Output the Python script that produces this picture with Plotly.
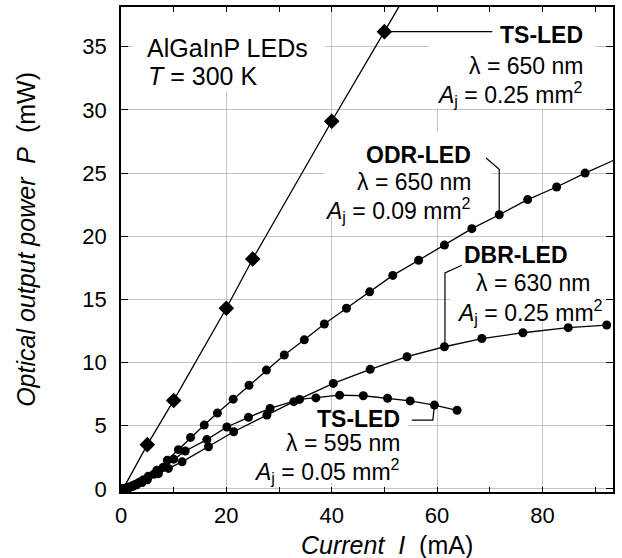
import plotly.graph_objects as go

# ---------------- data ----------------
# TS-LED, 650 nm, Aj = 0.25 mm^2 (diamonds)
ts650_current = [5, 10, 20, 25, 40, 50]
ts650_power = [3.5, 7.0, 14.3, 18.2, 29.1, 36.2]
ts650_line_current = [0.4, 5, 10, 20, 25, 40, 50, 53.5]
ts650_line_power = [0.0, 3.5, 7.0, 14.3, 18.2, 29.1, 36.2, 38.7]

# ODR-LED, 650 nm, Aj = 0.09 mm^2
odr_current = [0, 0.5, 1.0, 1.5, 2.0, 2.7, 3.5, 4.3, 5.2, 6.8, 8.8, 10.9, 13.2, 15.8,
               18.3, 21.3, 24.3, 27.6, 31.0, 34.8, 38.6, 42.8, 47.2, 51.6, 56.5, 61.4,
               66.6, 71.8, 77.2, 82.7, 88.1]
odr_power = [0, 0.02, 0.06, 0.12, 0.2, 0.35, 0.52, 0.72, 1.0, 1.48, 2.27, 3.1, 4.07, 5.05,
             6.0, 7.1, 8.2, 9.4, 10.6, 11.8, 13.05, 14.3, 15.6, 16.9, 18.1, 19.3,
             20.6, 21.7, 22.9, 23.9, 25.0]
odr_tail_current = [88.1, 94.0]
odr_tail_power = [25.0, 26.1]

# DBR-LED, 630 nm, Aj = 0.25 mm^2
dbr_current = [0, 0.5, 1.0, 1.6, 2.3, 3.0, 4.0, 5.0, 7.1, 9.0, 11.6, 16.6, 21.4, 27.7,
               32.8, 40.3, 47.3, 54.3, 61.4, 68.5, 76.3, 84.9, 92.2]
dbr_power = [0, 0.01, 0.04, 0.1, 0.2, 0.32, 0.5, 0.72, 1.2, 1.62, 2.14, 3.33, 4.52, 5.84,
             6.9, 8.35, 9.46, 10.46, 11.25, 11.9, 12.36, 12.76, 12.97]

# TS-LED, 595 nm, Aj = 0.05 mm^2
ts595_current = [0, 0.5, 1.0, 1.5, 2.2, 3.0, 4.0, 5.0, 6.2, 8.0, 10.0, 12.2, 16.3, 20.1,
                 24.2, 28.3, 33.9, 37.0, 41.5, 46.0, 50.6, 54.9, 59.5, 63.8]
ts595_power = [0, 0.02, 0.06, 0.12, 0.25, 0.4, 0.62, 0.85, 1.15, 1.7, 2.35, 3.0, 3.9, 4.9,
               5.66, 6.37, 7.08, 7.2, 7.42, 7.37, 7.17, 6.96, 6.63, 6.22]

x_ticks = [0, 20, 40, 60, 80]
y_ticks = [0, 5, 10, 15, 20, 25, 30, 35]

FONT = "Liberation Sans, Arial, sans-serif"
BLACK = "black"

fig = go.Figure()

line_style = dict(color=BLACK, width=1.3)

fig.add_trace(go.Scatter(x=ts650_line_current, y=ts650_line_power, mode="lines",
                         line=line_style, hoverinfo="skip"))
fig.add_trace(go.Scatter(x=ts650_current, y=ts650_power, mode="markers",
                         marker=dict(symbol="diamond", size=12, color=BLACK)))

for cx, py in [(odr_current, odr_power), (dbr_current, dbr_power), (ts595_current, ts595_power)]:
    fig.add_trace(go.Scatter(x=cx, y=py, mode="lines+markers", line=line_style,
                             marker=dict(symbol="circle", size=9, color=BLACK)))
fig.add_trace(go.Scatter(x=odr_tail_current, y=odr_tail_power, mode="lines",
                         line=line_style, hoverinfo="skip"))

# ---------------- white boxes behind text (break the grid) ----------------
boxes = [
    (2.3, 38.15, 38.8, 31.5),   # AlGaInP LEDs
    (58.5, 38.15, 90.0, 30.1),  # TS-LED 650
    (38.5, 28.3, 70.3, 21.5),   # ODR-LED
    (62.5, 19.5, 91.5, 13.6),   # DBR-LED
    (25.3, 6.0, 54.5, 0.5),     # TS-LED 595
]
for x0, y0, x1, y1 in boxes:
    fig.add_shape(type="rect", xref="x", yref="y", x0=x0, x1=x1, y0=y1, y1=y0,
                  fillcolor="white", line=dict(width=0), layer="between")

# ---------------- pointer lines ----------------
ptr = dict(color=BLACK, width=1.2)
fig.add_shape(type="line", xref="x", yref="y", x0=50, y0=36.2, x1=70.5, y1=36.2, line=ptr)
fig.add_shape(type="path", xref="x", yref="y",
              path="M 69.3 26.2 L 71.8 25.3 L 71.8 21.7", line=ptr)
fig.add_shape(type="path", xref="x", yref="y",
              path="M 64.7 17.7 L 61.5 17.1 L 61.5 11.25", line=ptr)
fig.add_shape(type="path", xref="x", yref="y",
              path="M 55.2 5.44 L 59.2 5.44 L 59.5 6.63", line=ptr)

# ---------------- text ----------------
def txt(x, y, s, anchor="right", size=23):
    fig.add_annotation(x=x, y=y, xref="x", yref="y", text=s, showarrow=False,
                       xanchor=anchor, yanchor="middle",
                       font=dict(family=FONT, size=size, color=BLACK))

txt(4.5, 34.9, "AlGaInP LEDs", anchor="left", size=25)
txt(4.8, 32.7, "<i>T</i> = 300 K", anchor="left", size=25)

txt(88.0, 35.9, "<b>TS-LED</b>")
txt(88.0, 33.5, "λ = 650 nm")
txt(88.0, 31.3, "<i>A</i><sub>j</sub> = 0.25 mm<sup>2</sup>")

txt(66.8, 26.4, "<b>ODR-LED</b>")
txt(66.8, 24.3, "λ = 650 nm")
txt(66.8, 22.1, "<i>A</i><sub>j</sub> = 0.09 mm<sup>2</sup>")

txt(75.0, 18.5, "<b>DBR-LED</b>", anchor="center")
txt(78.2, 16.3, "λ = 630 nm", anchor="center")
txt(77.6, 14.0, "<i>A</i><sub>j</sub> = 0.25 mm<sup>2</sup>", anchor="center")

txt(53.4, 5.5, "<b>TS-LED</b>")
txt(53.4, 3.6, "λ = 595 nm")
txt(53.4, 1.4, "<i>A</i><sub>j</sub> = 0.05 mm<sup>2</sup>")

# axis titles
fig.add_annotation(xref="paper", yref="paper", x=0.541, y=-0.109, showarrow=False,
                   xanchor="center", yanchor="middle",
                   text="<i>Current\u00a0\u00a0I</i>\u00a0\u00a0(mA)",
                   font=dict(family=FONT, size=25, color=BLACK))
fig.add_annotation(xref="paper", yref="paper", x=-0.193, y=0.52, showarrow=False,
                   xanchor="center", yanchor="middle", textangle=-90,
                   text="<i>Optical output power\u00a0\u00a0P</i>\u00a0\u00a0(mW)",
                   font=dict(family=FONT, size=25, color=BLACK))

axis_common = dict(showline=True, linecolor=BLACK, linewidth=1.5, mirror="ticks",
                   ticks="inside", tickcolor=BLACK, tickwidth=1.2, automargin=False,
                   showgrid=True, gridcolor="#c4c4c4", gridwidth=1, zeroline=False,
                   tickfont=dict(family=FONT, size=22, color=BLACK))

fig.update_xaxes(range=[0, 93.4], tickvals=x_ticks, ticklen=5,
                 minor=dict(dtick=10, tick0=0, ticks="inside", ticklen=5,
                            tickcolor=BLACK, showgrid=False),
                 ticklabelstandoff=3, **axis_common)
fig.update_yaxes(range=[-0.25, 38.15], tickvals=y_ticks, ticklen=7,
                 ticklabelstandoff=8, **axis_common)

fig.update_layout(width=622, height=558, showlegend=False,
                  margin=dict(l=121, r=9, t=7, b=66),
                  paper_bgcolor="white", plot_bgcolor="white",
                  font=dict(family=FONT, color=BLACK))

fig.write_html("out.html", config={"displayModeBar": False},
               post_script="document.body.style.margin='0';document.body.style.padding='0';")
